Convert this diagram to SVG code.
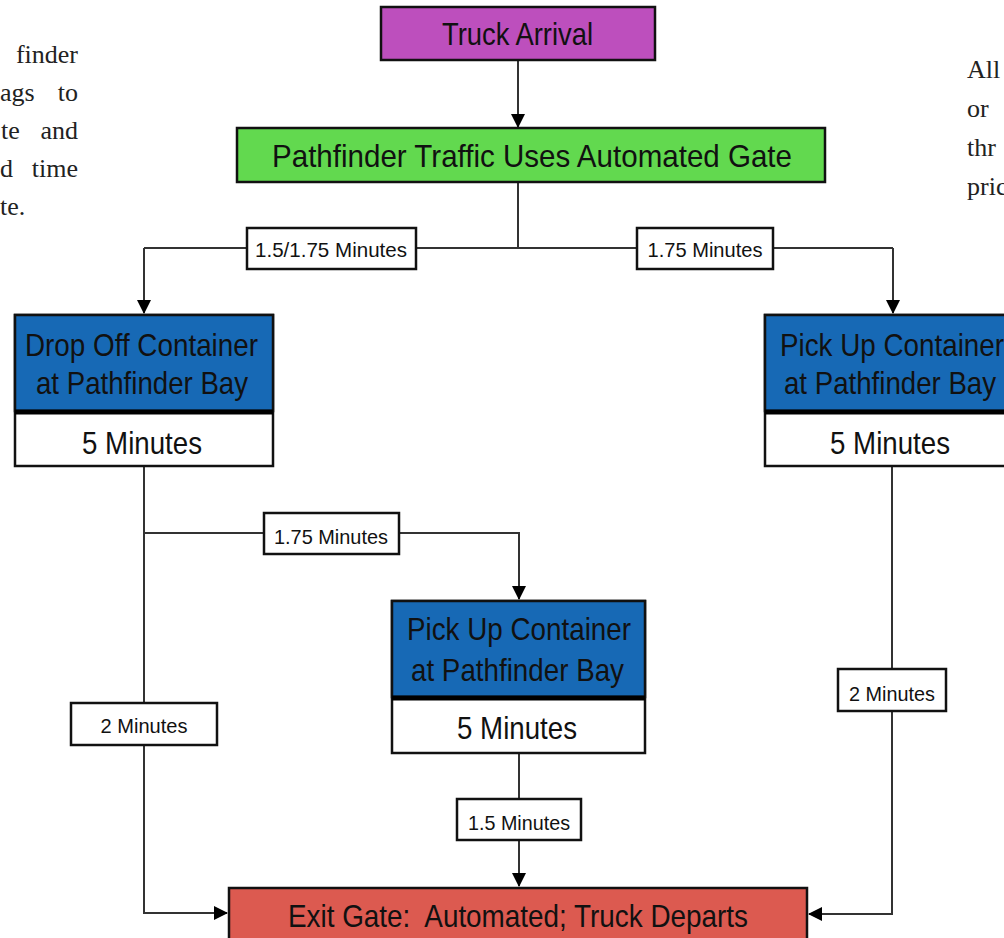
<svg xmlns="http://www.w3.org/2000/svg" width="1004" height="938" viewBox="0 0 1004 938">
<style>
.box{stroke:#111;stroke-width:2.5}
.lbl{fill:#fff;stroke:#111;stroke-width:2.5}
.t{font-family:"Liberation Sans",Arial,sans-serif;font-size:32px;fill:#111;text-anchor:middle}
.s{font-family:"Liberation Sans",Arial,sans-serif;font-size:21px;fill:#111;text-anchor:middle}
.p{font-family:"Liberation Serif","Times New Roman",serif;font-size:26px;fill:#222}
.e{text-anchor:end}
.c{fill:none;stroke:#333;stroke-width:2}
.div{stroke:#000;stroke-width:5}
</style>
<defs>
<marker id="ah" markerWidth="14" markerHeight="14" refX="13" refY="7" orient="auto" markerUnits="userSpaceOnUse">
<path d="M0,0 L14,7 L0,14 Z" fill="#000"/>
</marker>
</defs>
<rect width="1004" height="938" fill="#fff"/>
<g id="side-text">
<text class="p e" x="78" y="63">finder</text>
<text class="p" x="0" y="101">ags</text><text class="p e" x="78" y="101">to</text>
<text class="p" x="1" y="139">te</text><text class="p e" x="78" y="139">and</text>
<text class="p" x="0" y="177">d</text><text class="p e" x="78" y="177">time</text>
<text class="p" x="0" y="215">te.</text>
<text class="p" x="967" y="78">All</text>
<text class="p" x="967" y="117">or</text>
<text class="p" x="967" y="156">thr</text>
<text class="p" x="967" y="195">pric</text>
</g>
<g id="connectors">
<path class="c" d="M518,60 V127" marker-end="url(#ah)"/>
<path class="c" d="M518,182 V248"/>
<path class="c" d="M144,248 H893"/>
<path class="c" d="M144,248 V313" marker-end="url(#ah)"/>
<path class="c" d="M893,248 V313" marker-end="url(#ah)"/>
<path class="c" d="M144,466 V913 H227" marker-end="url(#ah)"/>
<path class="c" d="M144,533 H519 V599" marker-end="url(#ah)"/>
<path class="c" d="M519,753 V886" marker-end="url(#ah)"/>
<path class="c" d="M892,466 V914 H809" marker-end="url(#ah)"/>
<g id="lbl1"><rect class="lbl" x="247" y="228" width="169" height="41"/><text class="s" x="331" y="257" textLength="152" lengthAdjust="spacingAndGlyphs">1.5/1.75 Minutes</text></g>
<g id="lbl2"><rect class="lbl" x="637" y="228" width="136" height="41"/><text class="s" x="705" y="257" textLength="115" lengthAdjust="spacingAndGlyphs">1.75 Minutes</text></g>
<g id="lbl3"><rect class="lbl" x="264" y="513" width="135" height="41"/><text class="s" x="331" y="544" textLength="114" lengthAdjust="spacingAndGlyphs">1.75 Minutes</text></g>
<g id="lbl4"><rect class="lbl" x="71" y="703" width="146" height="42"/><text class="s" x="144" y="733" textLength="87" lengthAdjust="spacingAndGlyphs">2 Minutes</text></g>
<g id="lbl5"><rect class="lbl" x="838" y="669" width="108" height="42"/><text class="s" x="892" y="701" textLength="86" lengthAdjust="spacingAndGlyphs">2 Minutes</text></g>
<g id="lbl6"><rect class="lbl" x="457" y="799" width="124" height="41"/><text class="s" x="519" y="830" textLength="102" lengthAdjust="spacingAndGlyphs">1.5 Minutes</text></g>
</g>
<g id="truck-arrival">
<rect class="box" x="381" y="7" width="274" height="53" fill="#bd4fbd"/>
<text class="t" x="517.5" y="45" textLength="151" lengthAdjust="spacingAndGlyphs">Truck Arrival</text>
</g>
<g id="automated-gate">
<rect class="box" x="237" y="128" width="588" height="54" fill="#62d94f"/>
<text class="t" x="532" y="167" textLength="520" lengthAdjust="spacingAndGlyphs">Pathfinder Traffic Uses Automated Gate</text>
</g>
<g id="drop-off">
<rect class="box" x="15" y="315" width="258" height="151" fill="#fff"/>
<rect x="15" y="315" width="258" height="96" fill="#1769b5" class="box"/>
<line class="div" x1="15" y1="412" x2="273" y2="412"/>
<text class="t" x="141.5" y="356" textLength="233" lengthAdjust="spacingAndGlyphs">Drop Off Container</text>
<text class="t" x="142" y="394" textLength="212" lengthAdjust="spacingAndGlyphs">at Pathfinder Bay</text>
<text class="t" x="142" y="454" textLength="120" lengthAdjust="spacingAndGlyphs">5 Minutes</text>
</g>
<g id="pick-up-right">
<rect class="box" x="765" y="315" width="252" height="151" fill="#fff"/>
<rect x="765" y="315" width="252" height="96" fill="#1769b5" class="box"/>
<line class="div" x1="765" y1="412" x2="1017" y2="412"/>
<text class="t" x="892" y="356" textLength="224" lengthAdjust="spacingAndGlyphs">Pick Up Container</text>
<text class="t" x="890" y="394" textLength="212" lengthAdjust="spacingAndGlyphs">at Pathfinder Bay</text>
<text class="t" x="890" y="454" textLength="120" lengthAdjust="spacingAndGlyphs">5 Minutes</text>
</g>
<g id="pick-up-middle">
<rect class="box" x="392" y="601" width="253" height="152" fill="#fff"/>
<rect x="392" y="601" width="253" height="96" fill="#1769b5" class="box"/>
<line class="div" x1="392" y1="698" x2="645" y2="698"/>
<text class="t" x="519" y="640" textLength="224" lengthAdjust="spacingAndGlyphs">Pick Up Container</text>
<text class="t" x="517.5" y="681" textLength="213" lengthAdjust="spacingAndGlyphs">at Pathfinder Bay</text>
<text class="t" x="517" y="739" textLength="120" lengthAdjust="spacingAndGlyphs">5 Minutes</text>
</g>
<g id="exit-gate">
<rect class="box" x="229" y="888" width="578" height="60" fill="#dc5a50"/>
<text class="t" x="518" y="927" textLength="460" lengthAdjust="spacingAndGlyphs" xml:space="preserve">Exit Gate:  Automated; Truck Departs</text>
</g>
</svg>
